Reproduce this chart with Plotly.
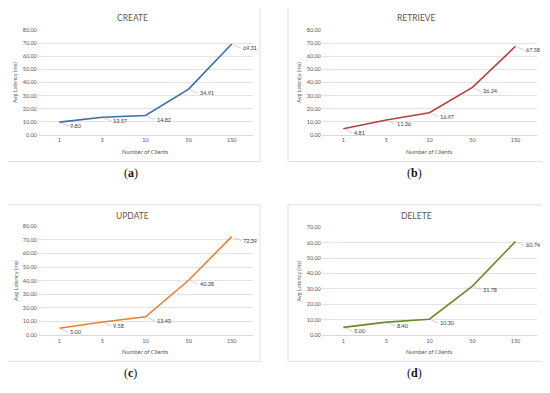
import plotly.graph_objects as go

clients = ["1", "5", "10", "50", "150"]
create = [9.80, 13.57, 14.82, 34.91, 69.31]
retrieve = [4.81, 11.36, 16.97, 36.24, 67.58]
update = [5.00, 9.58, 13.43, 40.28, 72.39]
delete = [5.00, 8.40, 10.30, 31.78, 60.74]

titles = ["CREATE", "RETRIEVE", "UPDATE", "DELETE"]
captions = ["a", "b", "c", "d"]
series = [create, retrieve, update, delete]
colors = ["#3F6DA6", "#B5403F", "#EE7E32", "#6B8A2C"]
yranges = [80, 80, 80, 70]

# page body has an 8px margin, so the figure is 16px smaller and shifted
OFF = 8
W, H = 550 - 2 * OFF, 393 - 2 * OFF
def fx(px): return (px - OFF) / W
def fy(py): return 1 - (py - OFF) / H

# panel geometry in window pixels: (plot x0, x1, y_zero, y_top, box x0, x1, y0, y1)
panels = [
    (37.8, 253.3, 134.0, 27.3, 5, 260, 4, 161),
    (321.8, 537.0, 134.0, 27.3, 288, 543, 4, 161),
    (37.8, 253.3, 337.3, 226.7, 5, 260, 205, 364),
    (321.8, 537.0, 337.3, 227.7, 288, 543, 205, 364),
]

fig = go.Figure()
shapes, annotations = [], []
FONT = "Lato, 'Open Sans', sans-serif"
GRAY = "#595959"

for i, (vals, col, ttl, cap, yr, g) in enumerate(zip(series, colors, titles, captions, yranges, panels)):
    n = "" if i == 0 else str(i + 1)
    px0, px1, yz, yt, bx0, bx1, by0, by1 = g
    fig.add_trace(go.Scatter(x=clients, y=vals, mode="lines",
                             line=dict(color=col, width=1.6),
                             xaxis="x" + n, yaxis="y" + n, showlegend=False,
                             hoverinfo="x+y"))
    fig.layout["xaxis" + n] = dict(
        domain=[fx(px0), fx(px1)], anchor="y" + n, type="category",
        range=[-0.5, 4.5], showgrid=False, zeroline=False,
        showline=True, linecolor="#d9d9d9", linewidth=0.8, ticks="",
        tickfont=dict(size=5.5, color=GRAY, family=FONT), fixedrange=True)
    fig.layout["yaxis" + n] = dict(
        domain=[fy(yz), fy(yt)], anchor="x" + n, range=[0, yr], dtick=10,
        tickformat=".2f", showgrid=True, gridcolor="#e3e3e3", gridwidth=0.8,
        zeroline=False, showline=False, ticks="",
        tickfont=dict(size=5.5, color=GRAY, family=FONT), fixedrange=True)
    # chart box
    shapes.append(dict(type="rect", xref="paper", yref="paper",
                       x0=fx(bx0), x1=fx(bx1), y0=fy(by1), y1=fy(by0),
                       line=dict(color="#d9d9d9", width=0.8), fillcolor="white",
                       layer="below"))
    cx = (px0 + px1) / 2
    # title
    annotations.append(dict(text=ttl, xref="paper", yref="paper", x=fx(cx - 13),
                            y=fy(by0 + 11), showarrow=False,
                            xanchor="center", yanchor="middle",
                            font=dict(size=8.5, color=GRAY, family=FONT)))
    # axis titles
    annotations.append(dict(text="Number of Clients", xref="paper", yref="paper",
                            x=fx(cx), y=fy(yz + 16.5), showarrow=False,
                            xanchor="center", yanchor="middle",
                            font=dict(size=5.8, color=GRAY, family=FONT)))
    annotations.append(dict(text="Avg Latency (ms)", xref="paper", yref="paper",
                            x=fx(px0 - 22.5), y=fy((yz + yt) / 2), showarrow=False,
                            textangle=-90, xanchor="center", yanchor="middle",
                            font=dict(size=5.5, color=GRAY, family=FONT)))
    # caption
    annotations.append(dict(text="(<b>%s</b>)" % cap, xref="paper", yref="paper",
                            x=fx(cx - 15), y=fy(by1 + 12), showarrow=False,
                            xanchor="center", yanchor="middle",
                            font=dict(size=12, color="#111111",
                                      family="'Liberation Serif', 'DejaVu Serif', serif")))
    # data labels
    for k, v in enumerate(vals):
        annotations.append(dict(text="%.2f" % v, xref="x" + n, yref="y" + n,
                                x=k, y=v, showarrow=True, ax=9, ay=4,
                                xanchor="left", yanchor="middle",
                                arrowhead=0, arrowwidth=0.5, arrowcolor="#a6a6a6",
                                standoff=2,
                                font=dict(size=5.5, color="#404040", family=FONT)))

fig.update_layout(width=W, height=H, margin=dict(l=0, r=0, t=0, b=0),
                  paper_bgcolor="white", plot_bgcolor="rgba(0,0,0,0)",
                  shapes=shapes, annotations=annotations)
fig.write_html("out.html")
